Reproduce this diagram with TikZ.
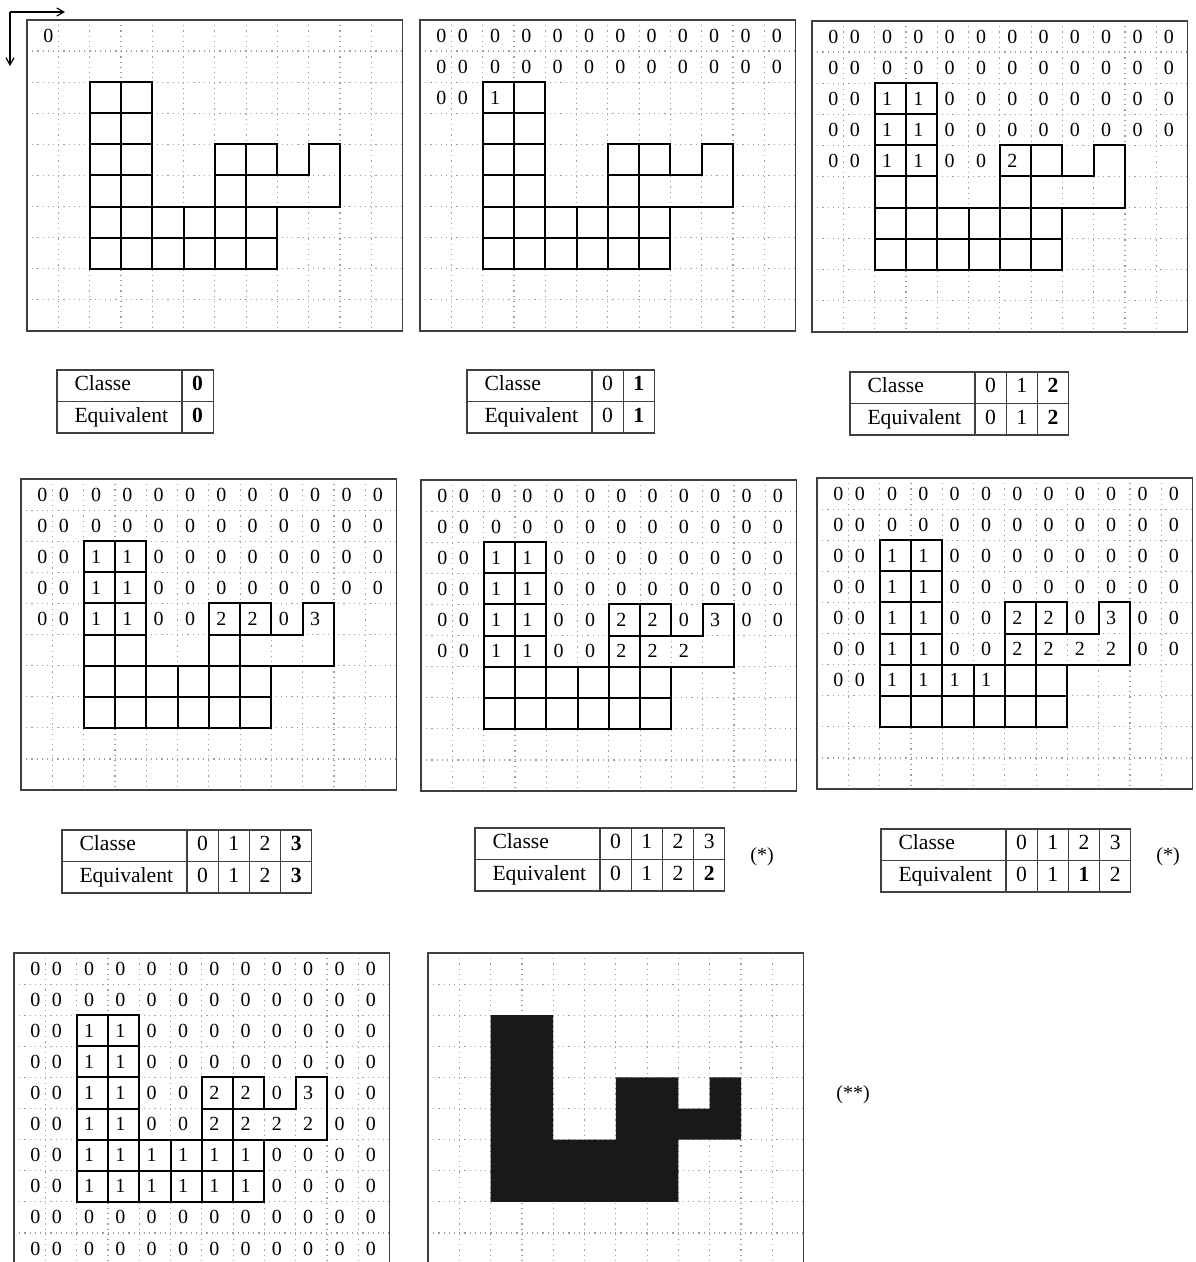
\documentclass[tikz,border=0pt]{standalone}
\usepackage{fontspec}
\setmainfont{Liberation Serif}
\usetikzlibrary{arrows.meta, positioning}

% labels of the 12x10 grid, row after row
\def\labs{{0,0,0,0,0,0,0,0,0,0,0,0,%
0,0,0,0,0,0,0,0,0,0,0,0,%
0,0,1,1,0,0,0,0,0,0,0,0,%
0,0,1,1,0,0,0,0,0,0,0,0,%
0,0,1,1,0,0,2,2,0,3,0,0,%
0,0,1,1,0,0,2,2,2,2,0,0,%
0,0,1,1,1,1,1,1,0,0,0,0,%
0,0,1,1,1,1,1,1,0,0,0,0,%
0,0,0,0,0,0,0,0,0,0,0,0,%
0,0,0,0,0,0,0,0,0,0,0,0}}

% dotted grid and frame of one image
\newcommand{\gridbase}{%
  \foreach \i in {1,...,11} \draw[dotgrid] (\i,0) -- (\i,10);
  \foreach \j in {1,...,9} \draw[dotgrid] (0,\j) -- (12,\j);
  \draw[frame] (0,0) rectangle (12,10);
}

% the object, cell by cell
\newcommand{\shapecells}{%
  \draw[cellline] (2,2) -| (4,6) -| (6,4) -| (8,5) -| (9,4) -| (10,6) -| (8,8) -| (2,2) -- cycle;
  \draw[cellline] (3,2) -- (3,8) (4,6) -- (4,8) (5,6) -- (5,8) (6,6) -- (6,8) (7,4) -- (7,8)
    (2,3) -- (4,3) (2,4) -- (4,4) (2,5) -- (4,5) (2,6) -- (8,6) (2,7) -- (8,7) (6,5) -- (8,5);
}

% first #2 labels of the scan, #1 = name prefix
\newcommand{\cellnums}[2]{%
  \foreach \idx in {1,...,#2}{%
    \pgfmathtruncatemacro{\kk}{\idx-1}%
    \pgfmathtruncatemacro{\row}{floor(\kk/12)}%
    \pgfmathtruncatemacro{\col}{mod(\kk,12)}%
    \pgfmathtruncatemacro{\val}{\labs[\kk]}%
    \pgfmathsetmacro{\xx}{\col==0 ? 0.68 : (\col==1 ? 1.37 : \col+0.4)}%
    \node[num] (#1-\row-\col) at (\xx,\row+0.5) {\val};
  }%
}

% table of classes, #1 = name, #2 = top left corner, #3 = classe/equivalent pairs
\newcommand{\eqtable}[3]{%
  \node[labcell, anchor=north west] (#1c) at #2 {Classe};
  \node[labcell, below=0pt of #1c] (#1e) {Equivalent};
  \foreach \cls/\equ [count=\kk] in {#3}{%
    \node[valcell, anchor=north west] (#1c\kk) at ([xshift=\kk*15.6pt-15.6pt]#1c.north east) {\cls};
    \node[valcell, below=0pt of #1c\kk] (#1e\kk) {\equ};
  }%
}

\begin{document}
\begin{tikzpicture}[
    x=0.5pt, y=-0.5pt,
    panel/.style={x=15.65pt, y=-15.55pt},
    dotgrid/.style={gray!75, dotted, line width=0.6pt},
    frame/.style={draw=black!75, line width=0.7pt},
    cellline/.style={black, line width=1pt},
    num/.style={inner sep=0pt, font=\fontsize{10}{12}\selectfont},
    labcell/.style={draw=black!75, line width=0.65pt, outer sep=0pt, inner xsep=8.75pt, inner ysep=0pt,
      text width=45pt, align=left, minimum height=15.75pt, text height=7.3pt, text depth=2.2pt,
      font=\fontsize{10.8}{12}\selectfont},
    valcell/.style={draw=black!75, line width=0.65pt, outer sep=0pt, inner sep=0pt,
      minimum width=15.6pt, minimum height=15.75pt, text height=7.3pt, text depth=2.2pt,
      font=\fontsize{10.8}{12}\selectfont},
    note/.style={font=\fontsize{10}{12}\selectfont},
    axis/.style={-{Straight Barb[length=3.5pt, width=4pt]}, line width=0.6pt}
]
  \useasboundingbox (0,0) rectangle (1195,1262);

  % scan directions
  \coordinate (o) at (10,12);
  \coordinate (xdir) at (65,12);
  \coordinate (ydir) at (10,66);
  \draw[axis] (o) -- (xdir);
  \draw[axis] (o) -- (ydir);

  % first row of images
  \begin{scope}[shift={(27,20)}, panel]
    \gridbase \shapecells \cellnums{pa}{1}
  \end{scope}
  \begin{scope}[shift={(420,20)}, panel]
    \gridbase \shapecells \cellnums{pb}{27}
  \end{scope}
  \begin{scope}[shift={(812,21)}, panel]
    \gridbase \shapecells \cellnums{pc}{55}
  \end{scope}

  \eqtable{ta}{(57,370)}{\textbf{0}/\textbf{0}}
  \eqtable{tb}{(467,370)}{0/0, \textbf{1}/\textbf{1}}
  \eqtable{tc}{(850,372)}{0/0, 1/1, \textbf{2}/\textbf{2}}

  % second row of images
  \begin{scope}[shift={(21,479)}, panel]
    \gridbase \shapecells \cellnums{pd}{58}
  \end{scope}
  \begin{scope}[shift={(421,480)}, panel]
    \gridbase \shapecells \cellnums{pe}{69}
  \end{scope}
  \begin{scope}[shift={(817,478)}, panel]
    \gridbase \shapecells \cellnums{pf}{78}
  \end{scope}

  \eqtable{td}{(62,830)}{0/0, 1/1, 2/2, \textbf{3}/\textbf{3}}
  \eqtable{te}{(475,828)}{0/0, 1/1, 2/2, 3/\textbf{2}}
  \eqtable{tf}{(881,829)}{0/0, 1/1, 2/\textbf{1}, 3/2}
  \node[note] (stare) at (762,857) {(*)};
  \node[note] (starf) at (1168,857) {(*)};

  % last row: labels and result
  \begin{scope}[shift={(14,953)}, panel]
    \gridbase \shapecells \cellnums{pg}{120}
  \end{scope}
  \begin{scope}[shift={(428,953)}, panel]
    \gridbase
    \fill[black!90] (2,2) -| (4,6) -| (6,4) -| (8,5) -| (9,4) -| (10,6) -| (8,8) -| (2,2) -- cycle;
  \end{scope}
  \node[note] (stars) at (853,1095) {(**)};
\end{tikzpicture}
\end{document}
